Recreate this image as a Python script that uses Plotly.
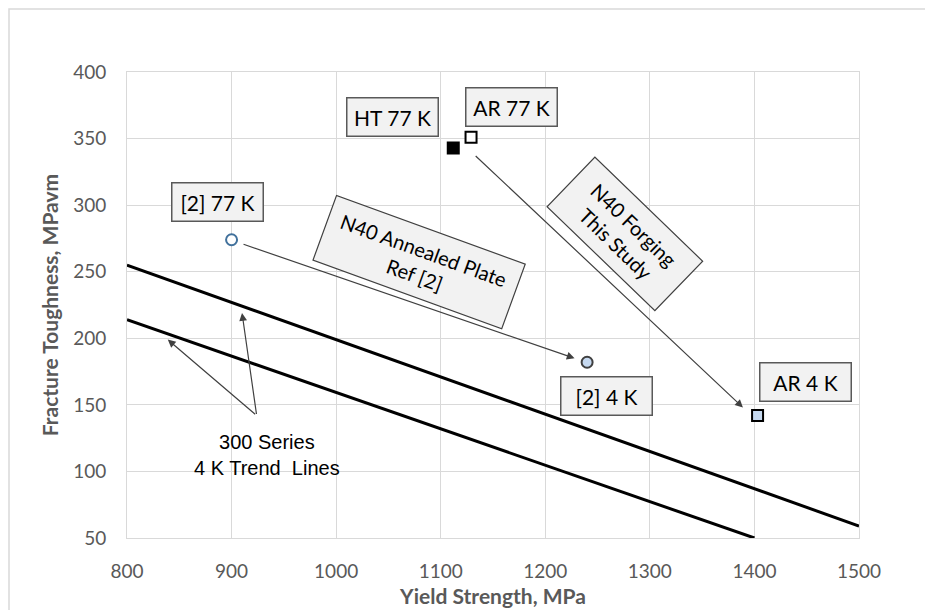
import plotly.graph_objects as go

# ---- data ----
point_names = ["HT 77 K", "AR 77 K", "[2] 77 K", "[2] 4 K", "AR 4 K"]
point_x = [1112, 1129, 900, 1240, 1403]
point_y = [343, 351, 274, 182, 142]
point_symbols = ["square", "square", "circle", "circle", "square"]
point_fill = ["#000000", "#ffffff", "#ffffff", "#c6d9f0", "#c6d9f0"]
point_edge = ["#000000", "#000000", "#41719c", "#404040", "#000000"]

trend_upper_x = [800, 1500]
trend_upper_y = [255, 59]
trend_lower_x = [800, 1400]
trend_lower_y = [214, 50]

# label boxes: text, x, y
label_text = ["HT 77 K", "AR 77 K", "[2] 77 K", "[2] 4 K", "AR 4 K"]
label_x = [1054, 1168, 887, 1259, 1449]
label_y = [366, 374, 302, 157, 167]

# arrows: (tail x, tail y) -> (head x, head y)
arrow_tail_x = [1132, 910, 924, 924]
arrow_tail_y = [338, 271, 142, 142]
arrow_head_x = [1389, 1228, 910, 839]
arrow_head_y = [148, 185, 219, 199]

fig = go.Figure()

fig.add_trace(go.Scatter(x=trend_upper_x, y=trend_upper_y, mode="lines",
                         line=dict(color="black", width=3), hoverinfo="skip"))
fig.add_trace(go.Scatter(x=trend_lower_x, y=trend_lower_y, mode="lines",
                         line=dict(color="black", width=3), hoverinfo="skip"))

for i in range(len(point_x)):
    fig.add_trace(go.Scatter(
        x=[point_x[i]], y=[point_y[i]], mode="markers", name=point_names[i],
        marker=dict(symbol=point_symbols[i], size=11, color=point_fill[i],
                    line=dict(color=point_edge[i], width=2))))

label_font = dict(family="Lato, 'Open Sans', sans-serif", size=21, color="#000000")
rot_font = dict(family="Lato, 'Open Sans', sans-serif", size=20, color="#000000")

for t, x, y in zip(label_text, label_x, label_y):
    fig.add_annotation(x=x, y=y, text=t, showarrow=False, font=label_font,
                       bgcolor="#f2f2f2", bordercolor="#595959", borderwidth=1.5,
                       borderpad=2, width=86, height=33)

for tx, ty, hx, hy in zip(arrow_tail_x, arrow_tail_y, arrow_head_x, arrow_head_y):
    fig.add_annotation(x=hx, y=hy, ax=tx, ay=ty, xref="x", yref="y",
                       axref="x", ayref="y", text="", showarrow=True,
                       arrowhead=2, arrowsize=1.3, arrowwidth=1.2,
                       arrowcolor="#404040")

fig.add_annotation(x=1079, y=257, text="N40 Annealed Plate<br>Ref [2]",
                   showarrow=False, textangle=20, font=rot_font,
                   bgcolor="#f2f2f2", bordercolor="#404040", borderwidth=1.2,
                   borderpad=2, width=196, height=64)
fig.add_annotation(x=1276, y=278, text="N40 Forging<br>This Study",
                   showarrow=False, textangle=44, font=rot_font,
                   bgcolor="#f2f2f2", bordercolor="#404040", borderwidth=1.2,
                   borderpad=2, width=145, height=64)
fig.add_annotation(x=934, y=112, text="300 Series<br>4 K Trend  Lines",
                   showarrow=False,
                   font=dict(family="'Liberation Sans', Arial, sans-serif",
                             size=20, color="#000000"))

# outer chart frame
fig.add_shape(type="rect", xref="paper", yref="paper",
              x0=-0.1612, x1=1.12, y0=-0.18, y1=1.135,
              line=dict(color="#d9d9d9", width=1.5), fillcolor="rgba(0,0,0,0)")

tick_font = dict(family="Lato, 'Open Sans', sans-serif", size=19, color="#595959")
title_font = dict(family="Lato, 'Open Sans', sans-serif", size=21, color="#595959")

fig.update_xaxes(range=[800, 1500], dtick=100, tick0=800, showgrid=True,
                 gridcolor="#d9d9d9", gridwidth=1, showline=True,
                 linecolor="#d9d9d9", mirror=True, zeroline=False,
                 ticks="", tickfont=tick_font, ticklabelstandoff=16,
                 title=dict(text="<b>Yield Strength, MPa</b>", font=title_font,
                            standoff=8))
fig.update_yaxes(range=[50, 400], dtick=50, tick0=50, showgrid=True,
                 gridcolor="#d9d9d9", gridwidth=1, showline=True,
                 linecolor="#d9d9d9", mirror=True, zeroline=False,
                 ticks="", tickfont=tick_font, ticklabelstandoff=16,
                 title=dict(text="<b>Fracture Toughness, MPavm</b>", font=title_font,
                            standoff=8))

fig.update_layout(width=933, height=610, showlegend=False,
                  plot_bgcolor="white", paper_bgcolor="white",
                  margin=dict(l=119, r=82, t=64, b=80))

fig.write_html("out.html")
